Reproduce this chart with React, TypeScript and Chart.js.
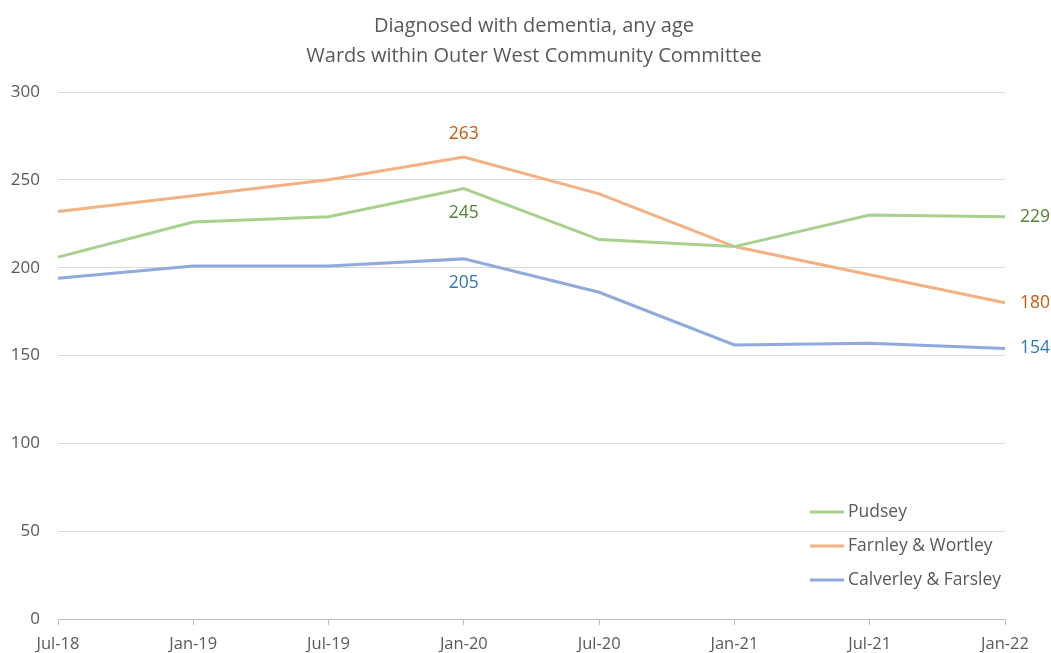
import React, { useEffect, useRef } from "react";
import { Chart, registerables } from "chart.js";

Chart.register(...registerables);

const categories = ["Jul-18", "Jan-19", "Jul-19", "Jan-20", "Jul-20", "Jan-21", "Jul-21", "Jan-22"];
const pudsey = [206, 226, 229, 245, 216, 212, 230, 229];
const farnley = [232, 241, 250, 263, 242, 212, 196, 180];
const calverley = [194, 201, 201, 205, 186, 156, 157, 154];
const seriesNames = ["Pudsey", "Farnley & Wortley", "Calverley & Farsley"];
const titleLines = ["Diagnosed with dementia, any age", "Wards within Outer West Community Committee"];

const FONT = "'Open Sans', 'Noto Sans', sans-serif";
const lineColors = ["#A9D18E", "#F4B183", "#8FAADC"];
const labelColors = ["#548235", "#C55A11", "#2E75B6"];

const overlayPlugin = {
  id: "overlay",
  afterDraw(chart: any) {
    const ctx = chart.ctx;
    const area = chart.chartArea;
    ctx.save();
    // title
    ctx.fillStyle = "#595959";
    ctx.font = `20px ${FONT}`;
    ctx.textAlign = "center";
    ctx.textBaseline = "middle";
    ctx.fillText(titleLines[0], 534, 26);
    ctx.fillText(titleLines[1], 534, 56);

    // data labels
    ctx.font = `17.5px ${FONT}`;
    const peak = 3;
    const last = categories.length - 1;
    chart.data.datasets.forEach((ds: any, i: number) => {
      const meta = chart.getDatasetMeta(i);
      ctx.fillStyle = labelColors[i];
      const p = meta.data[peak];
      ctx.textAlign = "center";
      const dy = i === 1 ? -23 : 24;
      ctx.fillText(String(ds.data[peak]), p.x, p.y + dy);
      const e = meta.data[last];
      ctx.textAlign = "left";
      ctx.fillText(String(ds.data[last]), e.x + 15, e.y);
    });

    // legend
    const lx = area.right - 195;
    const ly0 = area.bottom - 107;
    ctx.font = `17.5px ${FONT}`;
    ctx.textAlign = "left";
    seriesNames.forEach((name, i) => {
      const y = ly0 + i * 34;
      ctx.strokeStyle = lineColors[i];
      ctx.lineWidth = 3;
      ctx.beginPath();
      ctx.moveTo(lx, y);
      ctx.lineTo(lx + 34, y);
      ctx.stroke();
      ctx.fillStyle = "#595959";
      ctx.fillText(name, lx + 38, y);
    });
    ctx.restore();
  },
};

export default function App() {
  const ref = useRef<HTMLCanvasElement | null>(null);
  useEffect(() => {
    document.body.style.margin = "0";
    const data = [pudsey, farnley, calverley];
    const chart = new Chart(ref.current as HTMLCanvasElement, {
      type: "line",
      data: {
        labels: categories,
        datasets: seriesNames.map((n, i) => ({
          label: n,
          data: data[i],
          borderColor: lineColors[i],
          backgroundColor: lineColors[i],
          borderWidth: 3,
          pointRadius: 0,
          tension: 0,
        })),
      },
      options: {
        animation: false,
        responsive: false,
        maintainAspectRatio: false,
        layout: { padding: { top: 92, right: 46, left: 0, bottom: 0 } },
        plugins: {
          legend: { display: false },
          title: { display: false },
          tooltip: { enabled: false },
        },
        scales: {
          x: {
            offset: false,
            afterFit: (s: any) => { s.height = 34; },
            grid: { drawOnChartArea: false, drawTicks: true, tickLength: 6, color: "#BFBFBF", lineWidth: 1 },
            border: { color: "#BFBFBF", width: 1 },
            ticks: { color: "#595959", font: { family: FONT, size: 16.5 }, padding: 9, maxRotation: 0, autoSkip: false },
          },
          y: {
            min: 0,
            max: 300,
            afterFit: (s: any) => { s.width = 58; },
            grid: { color: "#D9D9D9", lineWidth: 1, drawTicks: false },
            border: { display: false },
            ticks: { stepSize: 50, color: "#595959", font: { family: FONT, size: 17 }, padding: 18 },
          },
        },
      },
      plugins: [overlayPlugin],
    });
    return () => chart.destroy();
  }, []);
  return (
    <div style={{ width: 1051, height: 653 }}>
      <canvas ref={ref} width={1051} height={653} style={{ display: "block" }} />
    </div>
  );
}
